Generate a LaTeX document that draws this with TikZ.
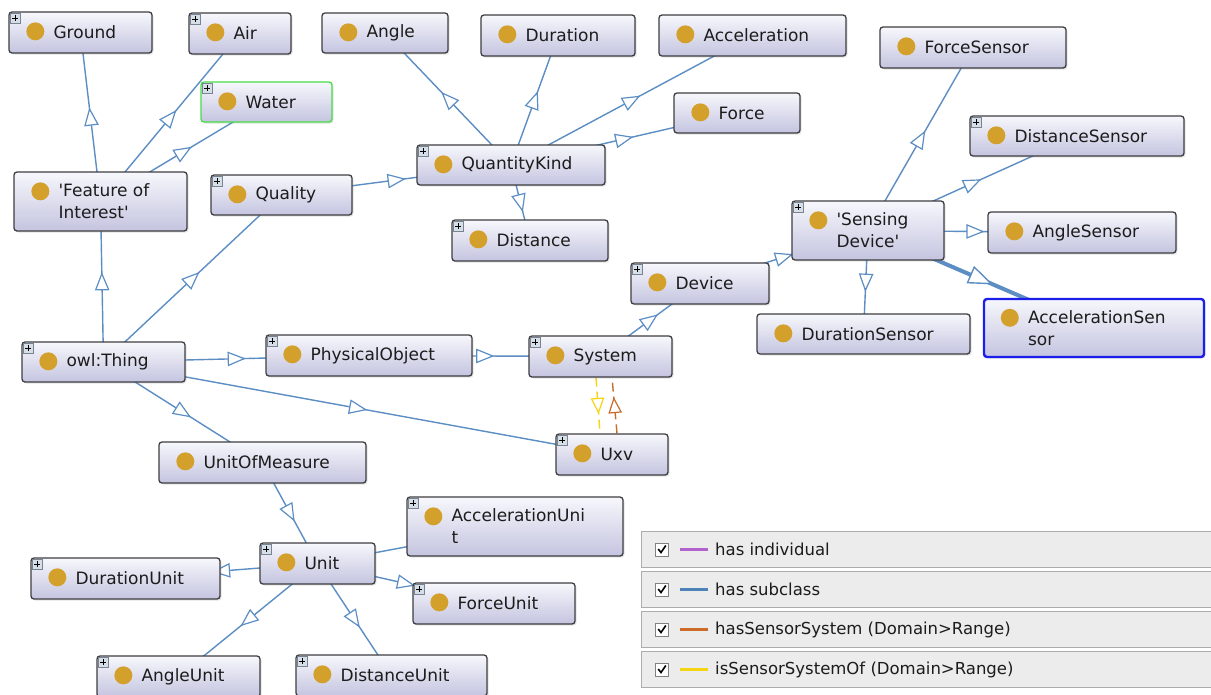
\documentclass[tikz,border=0pt]{standalone}
\usepackage{fontspec}
\setmainfont{DejaVu Sans}
\usetikzlibrary{shadows,decorations.markings}
\pgfdeclarelayer{bgl}
\pgfdeclarelayer{edges}
\pgfsetlayers{bgl,edges,main}
\definecolor{edgecol}{RGB}{92,142,196}
\definecolor{nodeborder}{RGB}{62,62,66}
\definecolor{ntop}{RGB}{247,247,252}
\definecolor{nbot}{RGB}{196,196,224}
\definecolor{goldc}{RGB}{212,160,44}
\definecolor{txtc}{RGB}{28,28,28}
\definecolor{legfill}{RGB}{236,236,236}
\definecolor{legdraw}{RGB}{172,172,172}
\definecolor{purc}{RGB}{178,98,204}
\definecolor{lbluec}{RGB}{76,130,184}
\definecolor{orgc}{RGB}{204,106,40}
\definecolor{yelc}{RGB}{245,212,20}
\definecolor{greenc}{RGB}{70,222,70}
\definecolor{selc}{RGB}{30,30,235}
\definecolor{plusfill}{RGB}{214,222,232}
\definecolor{plusdraw}{RGB}{120,132,146}
\newcommand\owlnodefont{\fontsize{17pt}{22pt}\selectfont}
\newcommand\owllegfont{\fontsize{16.5pt}{20pt}\selectfont}
\tikzset{
  clsbox/.style={draw=nodeborder, line width=1.3pt, rounded corners=3pt,
    top color=ntop, bottom color=nbot, inner sep=0pt,
    drop shadow={shadow xshift=1.5pt, shadow yshift=-1.5pt, opacity=0.22}},
  lbl/.style={font=\owlnodefont, text=txtc, inner sep=0pt, align=left, anchor=west},
  plusbox/.style={draw=plusdraw, fill=plusfill, line width=0.8pt},
  plussign/.style={draw=black, line width=1.1pt},
  subc/.style={draw=edgecol, line width=1.4pt,
    postaction={decorate, decoration={markings, mark=at position 0.5 with
      {\filldraw[fill=white,draw=edgecol,line width=1.2pt,solid] (8pt,0pt) -- (-8pt,6.5pt) -- (-8pt,-6.5pt) -- cycle;}}}},
  subthick/.style={draw=edgecol, line width=4pt,
    postaction={decorate, decoration={markings, mark=at position 0.5 with
      {\filldraw[fill=white,draw=edgecol,line width=1.4pt,solid] (11pt,0pt) -- (-11pt,8.5pt) -- (-11pt,-8.5pt) -- cycle;}}}},
  relyel/.style={draw=yelc, line width=1.4pt, dash pattern=on 9pt off 5pt,
    postaction={decorate, decoration={markings, mark=at position 0.5 with
      {\filldraw[fill=white,draw=yelc,line width=1.2pt,solid] (7pt,0pt) -- (-7pt,6pt) -- (-7pt,-6pt) -- cycle;}}}},
  relorg/.style={draw=orgc, line width=1.4pt, dash pattern=on 9pt off 5pt,
    postaction={decorate, decoration={markings, mark=at position 0.5 with
      {\filldraw[fill=white,draw=orgc,line width=1.2pt,solid] (7pt,0pt) -- (-7pt,6pt) -- (-7pt,-6pt) -- cycle;}}}},
  legrow/.style={draw=legdraw, fill=legfill, line width=1pt, inner sep=0pt, anchor=north west,
    minimum width=580pt, minimum height=36pt},
  legtxt/.style={font=\owllegfont, text=txtc, inner sep=0pt, anchor=west},
  legline/.style={line width=3pt},
  chk/.style={draw=gray, fill=white, line width=0.9pt, minimum size=13pt, inner sep=0pt},
  chkmark/.style={draw=black, line width=1.6pt},
}
\newcommand\owlcls[7][]{%
  \node[clsbox,minimum width=#5pt,minimum height=#6pt,#1] (#2) at (#3,#4) {};
  \fill[goldc] ([xshift=27pt,yshift=-20pt]#2.north west) circle[radius=9pt];
  \node[lbl] (#2-t) at ([xshift=45pt]#2.west) {#7};
}
\newcommand\owlplus[1]{%
  \draw[plusbox] ([xshift=2pt,yshift=-2pt]#1.north west) rectangle ([xshift=12pt,yshift=-12pt]#1.north west);
  \draw[plussign] ([xshift=4pt,yshift=-7pt]#1.north west) -- ([xshift=10pt,yshift=-7pt]#1.north west)
    ([xshift=7pt,yshift=-4pt]#1.north west) -- ([xshift=7pt,yshift=-10pt]#1.north west);
}
\begin{document}
\begin{tikzpicture}[x=1pt,y=-1pt]
\useasboundingbox (0,0) rectangle (1211,694);
\begin{pgfonlayer}{bgl}
\fill[white] (0,0) rectangle (1211,694);
\end{pgfonlayer}

% class nodes
\owlcls{ground}{80.5}{32.5}{143}{41}{Ground}\owlplus{ground}
\owlcls{air}{240}{33.5}{102}{41}{Air}\owlplus{air}
\owlcls[draw=greenc]{water}{266.5}{102}{131}{40}{Water}\owlplus{water}
\owlcls{angle}{385}{33}{126}{40}{Angle}
\owlcls{duration}{558}{35.5}{154}{41}{Duration}
\owlcls{accel}{752.5}{35.5}{187}{41}{Acceleration}
\owlcls{force}{737}{113}{126}{40}{Force}
\owlcls{forcesensor}{973}{47.5}{186}{41}{ForceSensor}
\owlcls{distsensor}{1077}{136}{214}{40}{DistanceSensor}\owlplus{distsensor}
\owlcls{qk}{511}{165}{188}{40}{QuantityKind}\owlplus{qk}
\owlcls{foi}{100.5}{201.5}{173}{59}{\textquotesingle Feature of\\Interest\textquotesingle}
\owlcls{quality}{281.5}{195}{141}{40}{Quality}\owlplus{quality}
\owlcls{distance}{530}{240.5}{156}{41}{Distance}\owlplus{distance}
\owlcls{sensdev}{868}{230.5}{152}{59}{\textquotesingle Sensing\\Device\textquotesingle}\owlplus{sensdev}
\owlcls{anglesensor}{1082}{232.5}{188}{41}{AngleSensor}
\owlcls{device}{700}{283.5}{138}{41}{Device}\owlplus{device}
\owlcls{dursensor}{863.5}{334}{213}{40}{DurationSensor}
\owlcls[draw=selc,line width=2.4pt]{accsensor}{1094}{328}{220}{58}{AccelerationSen\\sor}
\owlcls{thing}{103.5}{362}{163}{40}{owl:Thing}\owlplus{thing}
\owlcls{physobj}{369}{355.5}{206}{41}{PhysicalObject}\owlplus{physobj}
\owlcls{system}{600.5}{356.5}{143}{41}{System}\owlplus{system}
\owlcls{uxv}{612}{454.5}{112}{41}{Uxv}\owlplus{uxv}
\owlcls{uom}{262.5}{462.5}{207}{41}{UnitOfMeasure}
\owlcls{accunit}{515}{526.5}{216}{59}{AccelerationUni\\t}\owlplus{accunit}
\owlcls{unit}{317.5}{563.5}{115}{41}{Unit}\owlplus{unit}
\owlcls{durunit}{125.5}{578.5}{189}{41}{DurationUnit}\owlplus{durunit}
\owlcls{forceunit}{494}{603.5}{162}{41}{ForceUnit}\owlplus{forceunit}
\owlcls{angleunit}{178.5}{676.5}{163}{41}{AngleUnit}\owlplus{angleunit}
\owlcls{distunit}{391.5}{675.5}{191}{41}{DistanceUnit}\owlplus{distunit}

% edges
\begin{pgfonlayer}{edges}
\draw[subc] (foi.center) -- (ground.center);
\draw[subc] (foi.center) -- (air.center);
\draw[subc] (foi.center) -- (water.center);
\draw[subc] (thing.center) -- (foi.center);
\draw[subc] (thing.center) -- (quality.center);
\draw[subc] (quality.center) -- (qk.center);
\draw[subc] (qk.center) -- (angle.center);
\draw[subc] (qk.center) -- (duration.center);
\draw[subc] (qk.center) -- (accel.center);
\draw[subc] (qk.center) -- (force.center);
\draw[subc] (qk.center) -- (distance.center);
\draw[subc] (thing.center) -- (physobj.center);
\draw[subc] (thing.center) -- (uxv.center);
\draw[subc] (thing.center) -- (uom.center);
\draw[subc] (physobj.center) -- (system.center);
\draw[subc] (system.center) -- (device.center);
\draw[subc] (device.center) -- (sensdev.center);
\draw[subc] (sensdev.center) -- (forcesensor.center);
\draw[subc] (sensdev.center) -- (distsensor.center);
\draw[subc] (sensdev.center) -- (anglesensor.center);
\draw[subc] (sensdev.center) -- (dursensor.center);
\draw[subthick] (sensdev.center) -- (accsensor.center);
\draw[subc] (uom.center) -- (unit.center);
\draw[subc] (unit.center) -- (durunit.center);
\draw[subc] (unit.center) -- (accunit.center);
\draw[subc] (unit.center) -- (forceunit.center);
\draw[subc] (unit.center) -- (angleunit.center);
\draw[subc] (unit.center) -- (distunit.center);
\draw[relyel] ([xshift=-4.5pt]system.south) -- ([xshift=-12pt]uxv.north);
\draw[relorg] ([xshift=5pt]uxv.north) -- ([xshift=11.5pt]system.south);
\end{pgfonlayer}

% legend
\node[legrow] (lg1) at (641,531) {};
\node[legrow] (lg2) at (641,571) {};
\node[legrow] (lg3) at (641,611) {};
\node[legrow] (lg4) at (641,651) {};
\foreach \r/\c/\t in {lg1/purc/has individual, lg2/lbluec/has subclass,
   lg3/orgc/hasSensorSystem (Domain>Range), lg4/yelc/isSensorSystemOf (Domain>Range)}{
  \node[chk] (\r-cb) at ([xshift=21pt]\r.west) {};
  \draw[chkmark] ([xshift=-3.8pt,yshift=0.5pt]\r-cb.center) -- ([xshift=-1pt,yshift=-3pt]\r-cb.center) -- ([xshift=3.8pt,yshift=4pt]\r-cb.center);
  \draw[legline,draw=\c] ([xshift=39pt]\r.west) -- ([xshift=67pt]\r.west);
  \node[legtxt] (\r-t) at ([xshift=74pt]\r.west) {\t};
}
\end{tikzpicture}
\end{document}
